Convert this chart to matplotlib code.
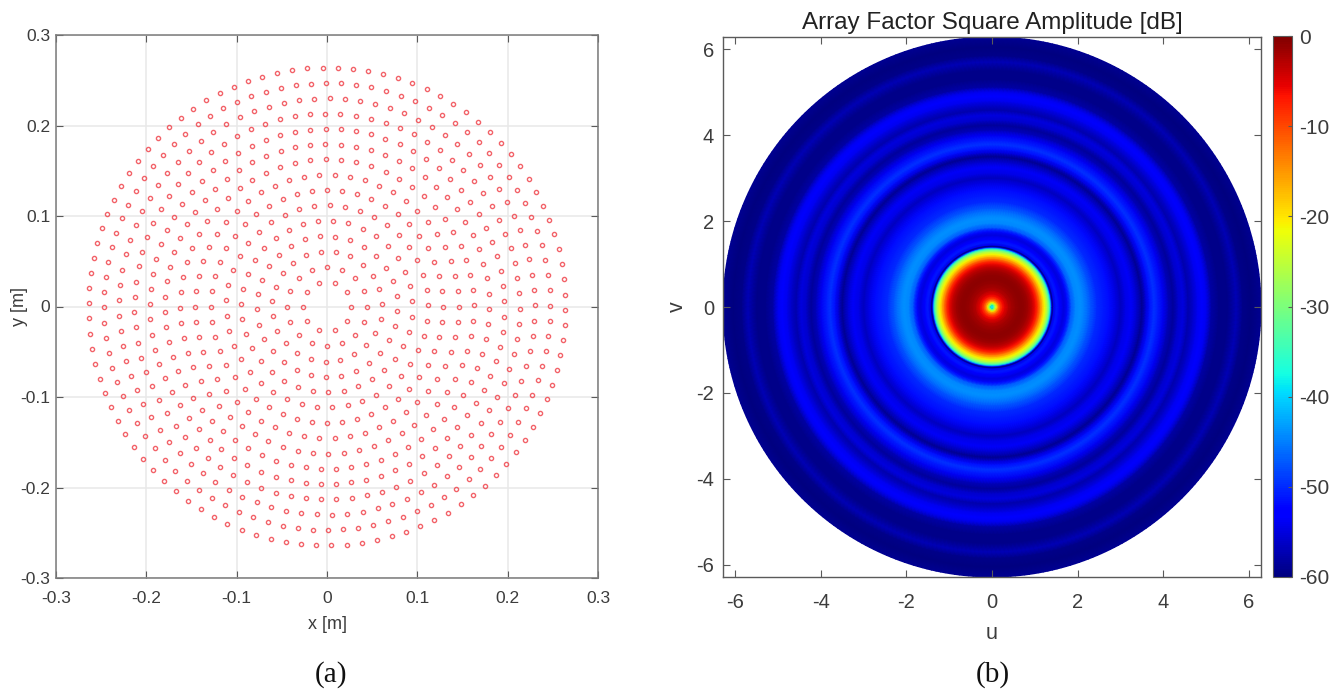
import numpy as np
import matplotlib
matplotlib.use('Agg')
import matplotlib.pyplot as plt

plt.rcParams['font.family'] = ['Liberation Sans', 'DejaVu Sans']
plt.rcParams['axes.unicode_minus'] = False

W, H = 1338, 691

# ring array: radius [m], elements per ring, angle of first element [deg]
ring_radius = [0.0271, 0.0440, 0.0610, 0.0779, 0.0948, 0.1117, 0.1286, 0.1456,
               0.1625, 0.1794, 0.1963, 0.2132, 0.2301, 0.2470, 0.2640]
ring_count = [10, 16, 23, 29, 35, 41, 48, 54, 60, 67, 73, 79, 85, 92, 98]
ring_start = [0, 0, 2.4, -3.8, 3.5, 0.75, 0, 0, 0.5, -0.8, 1.7, -0.6, 0.36, 0.25, -0.8]

# radial cut of panel (b), r in u-v units and level in dB
cut_r = [0, 0.03, 0.06, 0.09, 0.12, 0.16, 0.2, 0.25, 0.3, 0.38, 0.46, 0.55, 0.65, 0.75,
         0.85, 0.95, 1.02, 1.08, 1.13, 1.18, 1.22, 1.26, 1.3, 1.34, 1.37, 1.39, 1.41,
         1.44, 1.5, 1.58, 1.67, 1.76, 1.85, 1.95, 2.05, 2.15, 2.3, 2.45, 2.6, 2.75, 2.9,
         3.0, 3.12, 3.25, 3.38, 3.5, 3.6, 3.68, 3.78, 3.88, 4.0, 4.12, 4.23, 4.35, 4.46,
         4.58, 4.7, 4.8, 4.9, 5.0, 5.12, 5.3, 5.5, 5.7, 5.85, 6.05, 6.28]
cut_db = [-40, -36, -29, -22, -17, -12, -9, -6.5, -5, -3, -2, -1.2, -0.8, -1, -2, -4, -6.5,
          -10, -14, -18, -21, -24, -28, -34, -42, -52, -60,
          -54, -51, -53, -55, -52, -47, -44.5, -44, -45, -47.5, -50, -51, -52, -55,
          -56.5, -54.5, -53.5, -56, -59, -55, -51.5, -49.5, -51, -54, -57, -58.5, -56, -55,
          -57.5, -56, -54, -53, -54, -58, -59.5, -59.5, -57, -59.5, -60, -59]

xy_ticks = [-0.3, -0.2, -0.1, 0, 0.1, 0.2, 0.3]
xy_labels = ['-0.3', '-0.2', '-0.1', '0', '0.1', '0.2', '0.3']
uv_ticks = [-6, -4, -2, 0, 2, 4, 6]
cbar_ticks = [0, -10, -20, -30, -40, -50, -60]

TEXT = '#3c3c3c'
EDGE = '#5a5a5a'


def make_axes(fig, x0, y0, x1, y1):
    return fig.add_axes([x0 / W, 1 - y1 / H, (x1 - x0) / W, (y1 - y0) / H])


fig = plt.figure(figsize=(W / 100, H / 100), dpi=100)

# panel (a)
ax1 = make_axes(fig, 56, 35, 598, 578)
xs, ys = [], []
for r, n, a0 in zip(ring_radius, ring_count, ring_start):
    th = np.deg2rad(a0) + 2 * np.pi * np.arange(n) / n
    xs.append(r * np.cos(th))
    ys.append(r * np.sin(th))
ax1.plot(np.concatenate(xs), np.concatenate(ys), 'o', ms=3.0, mfc='none', mec='#f0474f',
         mew=1.0, alpha=0.85, zorder=3)
ax1.set_xlim(-0.3, 0.3)
ax1.set_ylim(-0.3, 0.3)
ax1.set_xticks(xy_ticks, xy_labels)
ax1.set_yticks(xy_ticks, xy_labels)
ax1.grid(True, color='#e8e8e8', lw=1.1)
ax1.set_axisbelow(True)
ax1.tick_params(direction='in', length=5, width=0.8, color=EDGE, labelcolor=TEXT,
                labelsize=12.5, top=True, right=True)
ax1.tick_params(axis='x', pad=9.5)
ax1.tick_params(axis='y', pad=4)
ax1.set_xlabel('x [m]', fontsize=13, color=TEXT)
ax1.set_ylabel('y [m]', fontsize=13, color=TEXT)
ax1.xaxis.set_label_coords(0.5, -0.07)
ax1.yaxis.set_label_coords(-0.052, 0.5)
for s in ax1.spines.values():
    s.set_color('#7a7a7a')
    s.set_linewidth(1.1)

# panel (b)
ax2 = make_axes(fig, 723, 37, 1261, 577)
theta = np.linspace(0, 2 * np.pi, 361)
R, T = np.meshgrid(cut_r, theta)
C = np.tile(cut_db, (len(theta), 1))
mesh = ax2.pcolormesh(R * np.cos(T), R * np.sin(T), C, cmap='jet', vmin=-60, vmax=0,
                      shading='gouraud')
ax2.set_xlim(-6.28, 6.28)
ax2.set_ylim(-6.28, 6.28)
ax2.set_xticks(uv_ticks)
ax2.set_yticks(uv_ticks)
ax2.tick_params(direction='in', length=5, width=0.8, color=EDGE, labelcolor=TEXT,
                labelsize=14.5, top=True, right=True)
ax2.tick_params(axis='x', pad=11.5)
ax2.tick_params(axis='y', pad=6.5)
ax2.set_xlabel('u', fontsize=15.5, color=TEXT)
ax2.set_ylabel('v', fontsize=15.5, color=TEXT)
ax2.xaxis.set_label_coords(0.5, -0.085)
ax2.yaxis.set_label_coords(-0.065, 0.5)
ax2.set_title('Array Factor Square Amplitude [dB]', fontsize=17.5, color='#222222', pad=6)
for s in ax2.spines.values():
    s.set_color(EDGE)
    s.set_linewidth(1.0)

# colorbar
cax = make_axes(fig, 1273, 36, 1292, 577)
cb = fig.colorbar(mesh, cax=cax)
cb.set_ticks(cbar_ticks)
cb.set_ticklabels([str(t) for t in cbar_ticks])
cax.tick_params(direction='in', length=3, width=0.8, color=EDGE, labelcolor=TEXT,
                labelsize=15, pad=5)
cb.outline.set_edgecolor(EDGE)
cb.outline.set_linewidth(0.8)

# panel captions
fig.text(331 / W, 1 - 675 / H, '(a)', family='Liberation Serif', fontsize=21, ha='center',
         va='center', color='#111111')
fig.text(993 / W, 1 - 675 / H, '(b)', family='Liberation Serif', fontsize=21, ha='center',
         va='center', color='#111111')

fig.savefig('out.png', dpi=100)
